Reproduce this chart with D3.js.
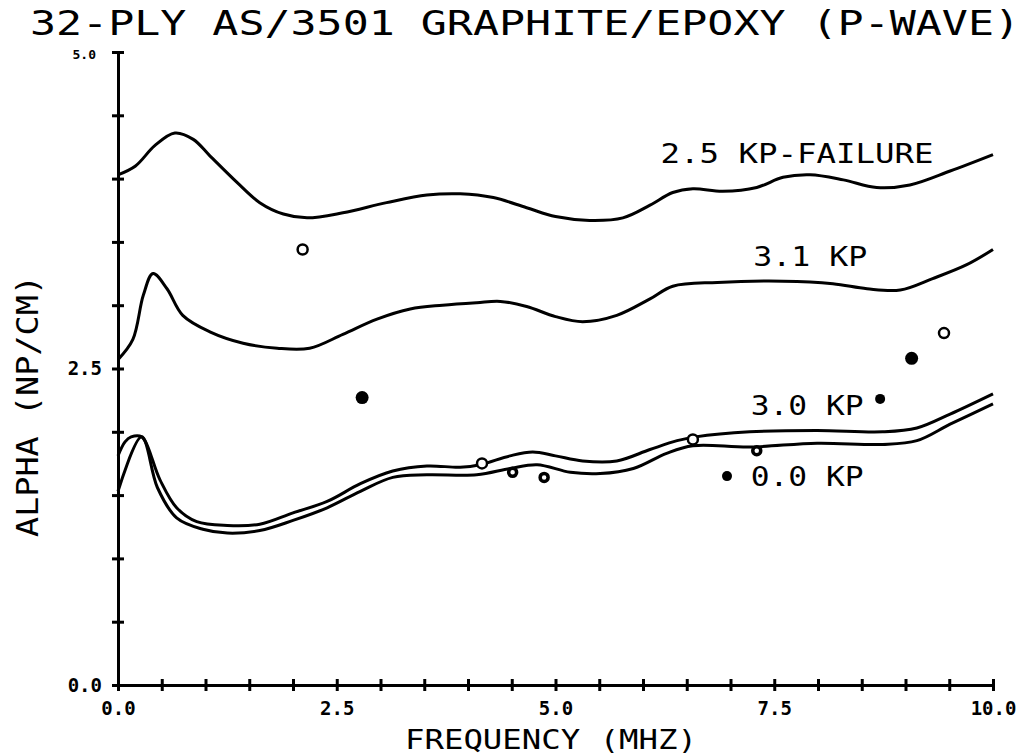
<!DOCTYPE html>
<html>
<head>
<meta charset="utf-8">
<script src="https://cdn.jsdelivr.net/npm/d3@7"></script>
<style>
  body { margin: 0; background: #fff; }
  .plotText { font-family: "DejaVu Sans Mono", monospace; fill: #000; }
</style>
</head>
<body>
<div id="chart"></div>
<script>
// curve data (frequency in MHz, alpha in Np/cm)
var failureFreq  = [0, 0.2, 0.42, 0.65, 0.86, 1.05, 1.36, 1.62, 1.89, 2.16, 2.57, 3.07, 3.53, 3.91, 4.29, 4.67, 5.0, 5.39, 5.77, 6.08, 6.34, 6.57, 6.91, 7.30, 7.60, 7.91, 8.29, 8.67, 9.05, 9.51, 10.0];
var failureAlpha = [4.03, 4.10, 4.26, 4.36, 4.31, 4.18, 3.97, 3.81, 3.72, 3.69, 3.73, 3.81, 3.87, 3.88, 3.85, 3.77, 3.70, 3.67, 3.69, 3.79, 3.89, 3.92, 3.90, 3.93, 4.01, 4.03, 3.99, 3.93, 3.95, 4.06, 4.19];

var kp31Freq  = [0, 0.17, 0.29, 0.40, 0.56, 0.74, 1.05, 1.43, 1.82, 2.19, 2.57, 2.96, 3.34, 3.71, 4.10, 4.37, 4.67, 5.0, 5.31, 5.70, 6.08, 6.34, 6.85, 7.60, 8.17, 8.56, 8.94, 9.31, 9.70, 10.0];
var kp31Alpha = [2.57, 2.73, 3.08, 3.25, 3.13, 2.92, 2.79, 2.70, 2.66, 2.66, 2.77, 2.89, 2.97, 3.00, 3.02, 3.03, 2.99, 2.91, 2.87, 2.92, 3.05, 3.15, 3.18, 3.19, 3.17, 3.13, 3.12, 3.21, 3.32, 3.44];

var kp30Freq  = [0, 0.08, 0.15, 0.27, 0.48, 0.67, 0.90, 1.25, 1.62, 2.0, 2.39, 2.77, 3.14, 3.53, 3.91, 4.14, 4.48, 4.74, 5.0, 5.31, 5.70, 6.08, 6.39, 6.60, 7.22, 7.99, 8.74, 9.13, 9.51, 10.0];
var kp30Alpha = [1.81, 1.92, 1.96, 1.96, 1.62, 1.40, 1.29, 1.26, 1.27, 1.36, 1.45, 1.59, 1.69, 1.73, 1.72, 1.74, 1.81, 1.84, 1.81, 1.77, 1.77, 1.86, 1.93, 1.96, 2.00, 2.01, 2.00, 2.03, 2.14, 2.30];

var kp00Freq  = [0, 0.27, 0.45, 0.67, 0.97, 1.25, 1.62, 2.0, 2.39, 2.77, 3.14, 3.53, 4.10, 4.48, 4.79, 5.17, 5.51, 5.89, 6.27, 6.57, 7.22, 7.99, 8.74, 9.13, 9.51, 10.0];
var kp00Alpha = [1.53, 1.96, 1.56, 1.32, 1.23, 1.20, 1.22, 1.30, 1.40, 1.53, 1.64, 1.66, 1.66, 1.71, 1.74, 1.68, 1.67, 1.71, 1.83, 1.89, 1.88, 1.91, 1.90, 1.93, 2.06, 2.22];

// measured points
var filledPoints = [[2.79, 2.27], [9.07, 2.58]];
var smallFilledPoints = [[6.96, 1.65], [8.71, 2.26]];
var openPoints = [[2.11, 3.44], [4.16, 1.75], [6.57, 1.94], [9.44, 2.78]];
var ringPoints = [[4.51, 1.68], [4.87, 1.64], [7.30, 1.85]];

// curve labels
var curveLabels = ["2.5 KP-FAILURE", "3.1 KP", "3.0 KP", "0.0 KP"];
var labelFreq   = [6.2, 7.26, 7.23, 7.23];
var labelAlpha  = [4.12, 3.31, 2.13, 1.57];

var xTicks = d3.range(0, 10.01, 0.5);
var yTicks = d3.range(0, 5.01, 0.5);
var majorTicks = [0, 2.5, 5, 7.5, 10];

var svgWidth = 1027;
var svgHeight = 756;

var svg = d3.select("#chart")
    .append("svg")
    .attr("width", svgWidth)
    .attr("height", svgHeight);

var xScale = d3.scaleLinear().domain([0, 10]).range([118, 993]);
var yScale = d3.scaleLinear().domain([0, 5]).range([685, 52]);

// title
svg.append("text")
    .classed("plotText", true)
    .attr("x", 30)
    .attr("y", 35)
    .attr("font-size", 33)
    .attr("textLength", 990)
    .attr("lengthAdjust", "spacingAndGlyphs")
    .text("32-PLY AS/3501 GRAPHITE/EPOXY (P-WAVE)");

// axes
var bottomAxis = d3.axisBottom(xScale)
    .tickValues(xTicks)
    .tickSizeOuter(0)
    .tickSize(6)
    .tickFormat(d => majorTicks.includes(d) ? d.toFixed(1) : "");

var leftAxis = d3.axisLeft(yScale)
    .tickValues(yTicks)
    .tickSizeOuter(0)
    .tickSize(6)
    .tickFormat(d => majorTicks.includes(d) ? d.toFixed(1) : "");

var xAxisG = svg.append("g")
    .attr("transform", `translate(0,${yScale(0)})`)
    .call(bottomAxis);
xAxisG.selectAll(".tick line").attr("y1", -6).attr("y2", 6);
xAxisG.selectAll(".tick text").attr("y", 17);

var yAxisG = svg.append("g")
    .attr("transform", `translate(${xScale(0)},0)`)
    .call(leftAxis);
yAxisG.selectAll(".tick line").attr("x1", -6).attr("x2", 6);
yAxisG.selectAll(".tick text").attr("x", -16);

svg.selectAll(".tick text")
    .attr("font-family", "DejaVu Sans Mono, monospace")
    .attr("font-weight", "bold")
    .attr("font-size", 19);
// top label is drawn smaller on the original plot
yAxisG.selectAll(".tick text").filter(d => d === 5).attr("font-size", 13).attr("x", -22).attr("dy", "0.5em");

svg.selectAll(".domain, .tick line")
    .attr("stroke", "#000")
    .attr("stroke-width", 3);

// axis titles
svg.append("text")
    .classed("plotText", true)
    .attr("x", 405)
    .attr("y", 749)
    .attr("font-size", 26)
    .attr("textLength", 292)
    .attr("lengthAdjust", "spacingAndGlyphs")
    .text("FREQUENCY (MHZ)");

svg.append("text")
    .classed("plotText", true)
    .attr("transform", "translate(38,537) rotate(-90)")
    .attr("font-size", 31)
    .attr("textLength", 262)
    .attr("lengthAdjust", "spacingAndGlyphs")
    .text("ALPHA (NP/CM)");

// curves
var line = d3.line()
    .x(d => xScale(d[0]))
    .y(d => yScale(d[1]))
    .curve(d3.curveCatmullRom.alpha(0.5));

var curves = [
    d3.zip(failureFreq, failureAlpha),
    d3.zip(kp31Freq, kp31Alpha),
    d3.zip(kp30Freq, kp30Alpha),
    d3.zip(kp00Freq, kp00Alpha)
];

svg.append("g").selectAll("path")
    .data(curves)
    .enter()
    .append("path")
    .attr("d", line)
    .attr("fill", "none")
    .attr("stroke", "#000")
    .attr("stroke-width", 3)
    .attr("stroke-linejoin", "round");

// curve labels
var labelWidths = [273, 114, 113, 113];
svg.append("g").selectAll("text")
    .data(curveLabels)
    .enter()
    .append("text")
    .classed("plotText", true)
    .attr("x", (d, i) => xScale(labelFreq[i]))
    .attr("y", (d, i) => yScale(labelAlpha[i]))
    .attr("font-size", 27)
    .attr("textLength", (d, i) => labelWidths[i])
    .attr("lengthAdjust", "spacingAndGlyphs")
    .text(d => d);

// points
svg.append("g").selectAll("circle")
    .data(filledPoints)
    .enter()
    .append("circle")
    .attr("cx", d => xScale(d[0]))
    .attr("cy", d => yScale(d[1]))
    .attr("r", 6.5)
    .attr("fill", "#000");

svg.append("g").selectAll("circle")
    .data(smallFilledPoints)
    .enter()
    .append("circle")
    .attr("cx", d => xScale(d[0]))
    .attr("cy", d => yScale(d[1]))
    .attr("r", 5)
    .attr("fill", "#000");

svg.append("g").selectAll("circle")
    .data(openPoints)
    .enter()
    .append("circle")
    .attr("cx", d => xScale(d[0]))
    .attr("cy", d => yScale(d[1]))
    .attr("r", 5)
    .attr("fill", "#fff")
    .attr("stroke", "#000")
    .attr("stroke-width", 2.5);

svg.append("g").selectAll("circle")
    .data(ringPoints)
    .enter()
    .append("circle")
    .attr("cx", d => xScale(d[0]))
    .attr("cy", d => yScale(d[1]))
    .attr("r", 4)
    .attr("fill", "#fff")
    .attr("stroke", "#000")
    .attr("stroke-width", 3.5);
</script>
</body>
</html>
